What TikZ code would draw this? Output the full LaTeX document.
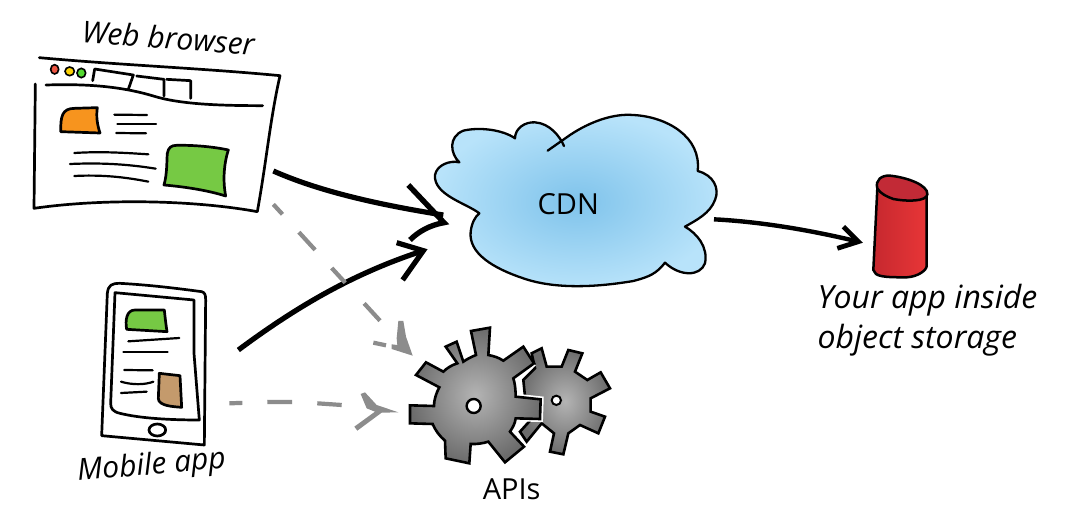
\documentclass[tikz,border=0pt]{standalone}
\usepackage{fontspec}
\setmainfont{Open Sans}
\definecolor{dashgray}{HTML}{8C8C8C}
\definecolor{tan}{HTML}{C49A6C}
\definecolor{leaf}{HTML}{76C944}
\definecolor{amber}{HTML}{F7941E}
\definecolor{skyin}{HTML}{7FC3EB}
\definecolor{skyout}{HTML}{B8E3FA}
\definecolor{gearin}{HTML}{B4B4B4}
\definecolor{gearout}{HTML}{6C6C6C}
\definecolor{redl}{HTML}{C6282F}
\definecolor{redr}{HTML}{E83637}
\definecolor{redt}{HTML}{C22A36}
\tikzset{
  zm/.style 2 args={shift={(#1,#2)},x=0.33333pt,y=-0.33333pt},
  ink/.style={draw=black,line width=2.7pt,line cap=round,line join=round},
  thinink/.style={draw=black,line width=2.2pt,line cap=round,line join=round},
  flow/.style={draw=black,line width=5.2pt,line join=miter},
  headink/.style={draw=black,line width=5.4pt,line join=miter,miter limit=10},
  gflow/.style={draw=dashgray,line width=4.2pt},
  lab/.style={font=\fontsize{30}{41}\selectfont\itshape,inner sep=0pt,text=black,align=left},
  gearshade/.style={shade,inner color=gearin,outer color=gearout,draw=black,line width=2.6pt,line join=miter},
}
\begin{document}
\begin{tikzpicture}[x=1pt,y=-1pt]
\useasboundingbox (0,0) rectangle (1080,524);
\fill[white] (0,0) rectangle (1080,524);
% ---- browser
\begin{scope}[zm={20}{10}]
\draw[ink] (58,143) .. controls (300,165) and (550,175) .. (780,197) .. controls (750,330) and (740,450) .. (712,605) .. controls (520,570) and (250,565) .. (42,595) -- (46,222);
\draw[ink] (78,225) .. controls (180,222) and (290,225) .. (400,258) .. controls (480,283) and (600,287) .. (728,287);
\fill[draw=black,line width=1.6pt,fill=red!60!brown!75!pink] (104,178) ellipse [x radius=12,y radius=14];
\fill[draw=black,line width=1.6pt,fill=yellow!70!orange] (149,184) ellipse [x radius=14,y radius=13];
\fill[draw=black,line width=1.6pt,fill=leaf!70!green] (184,189) ellipse [x radius=13,y radius=14];
\draw[ink] (218,212) -- (224,177) -- (340,195) -- (325,238);
\draw[ink] (350,198) -- (432,208) -- (432,258);
\draw[ink] (440,208) -- (512,212) -- (512,265);
\draw[ink,fill=amber] (122,365) .. controls (122,320) and (125,295) .. (165,295) -- (232,293) .. controls (228,320) and (232,345) .. (240,369) -- cycle;
\draw[thinink] (283,314) -- (381,315);
\draw[thinink] (292,341) -- (408,341);
\draw[thinink] (289,369) -- (378,370);
\draw[thinink] (163,429) .. controls (240,424) and (310,428) .. (385,433);
\draw[thinink] (150,462) .. controls (240,458) and (320,462) .. (407,476);
\draw[thinink] (163,498) .. controls (240,494) and (310,500) .. (385,515);
\draw[ink,fill=leaf] (432,525) .. controls (442,490) and (440,450) .. (442,430) .. controls (445,412) and (455,406) .. (470,406) .. controls (520,405) and (580,410) .. (625,420) .. controls (612,460) and (608,510) .. (617,558) .. controls (560,540) and (490,530) .. (432,525) -- cycle;
\node[lab,rotate=-4] (webLabel) at (445,83) {Web browser};
\end{scope}
% ---- mobile
\begin{scope}[zm={70}{270}]
\draw[ink] (95,497) -- (112,70) .. controls (115,45) and (125,40) .. (150,40) .. controls (240,45) and (320,55) .. (395,65) .. controls (405,68) and (407,75) .. (407,90) -- (403,525) -- cycle;
\draw[ink] (135,68) -- (372,90) -- (372,250) -- (388,450) .. controls (300,450) and (210,445) .. (150,430) .. controls (128,425) and (122,415) .. (122,400) -- cycle;
\draw[ink,fill=leaf] (170,178) .. controls (165,150) and (170,120) .. (195,120) -- (283,120) .. controls (285,140) and (288,165) .. (291,185) -- cycle;
\draw[thinink] (175,214) -- (328,204);
\draw[thinink] (160,246) -- (293,246);
\draw[thinink] (163,300) -- (248,301);
\draw[thinink] (153,335) .. controls (185,345) and (225,345) .. (250,335);
\draw[thinink] (153,369) -- (230,365);
\draw[ink,fill=tan] (268,310) -- (330,317) -- (335,412) .. controls (310,410) and (265,408) .. (265,385) -- cycle;
\draw[ink] (262,480) ellipse [x radius=25,y radius=18];
\node[lab,rotate=5] (mobileLabel) at (245,590) {Mobile app};
\end{scope}
% ---- cloud
\begin{scope}[zm={400}{100}]
\draw[shade,inner color=skyin,outer color=skyout,draw=black,line width=2.3pt,line cap=round,line join=round]
 (443,152) -- (510,105) .. controls (570,65) and (640,40) .. (700,45) .. controls (800,50) and (905,110) .. (893,213)
 .. controls (940,225) and (960,265) .. (945,300) .. controls (930,340) and (890,360) .. (855,380)
 .. controls (890,400) and (925,440) .. (915,490) .. controls (900,530) and (840,530) .. (795,488)
 .. controls (770,520) and (750,530) .. (700,543) .. controls (600,560) and (470,570) .. (370,535)
 .. controls (280,505) and (205,460) .. (212,395) .. controls (215,370) and (225,350) .. (238,340)
 .. controls (200,310) and (100,285) .. (105,225) .. controls (110,195) and (150,180) .. (178,187)
 .. controls (150,160) and (145,110) .. (190,92) .. controls (240,80) and (310,90) .. (345,115)
 .. controls (345,85) and (375,65) .. (405,67) .. controls (450,70) and (480,110) .. (492,138);
\node[lab,font=\fontsize{29}{34}\selectfont] (cdnLabel) at (505,312) {CDN};
\end{scope}
% ---- storage
\begin{scope}[zm={710}{160}]
\draw[left color=redl,right color=redr,draw=black,line width=2.5pt,line join=round] (502,85) -- (490,330) .. controls (495,350) and (520,352) .. (590,352) .. controls (625,350) and (650,330) .. (650,318) -- (650,100) -- cycle;
\draw[fill=redt,draw=black,line width=2.5pt] (502,85) .. controls (495,60) and (515,45) .. (540,47) .. controls (590,52) and (655,75) .. (652,103) .. controls (650,125) and (590,125) .. (550,117) .. controls (530,110) and (510,100) .. (502,85) -- cycle;
\node[lab,anchor=north west,font=\fontsize{32}{40}\selectfont\itshape] (storeLabel) at (322,372) {Your app inside\\object storage};
\coordinate (storeIn) at (445,245);
\coordinate (cdnOut) at (12,178);
\draw[flow,line width=4.4pt] (cdnOut) .. controls (150,185) and (300,210) .. (storeIn);
\draw[headink,line width=4.8pt] (400,200) -- (storeIn) -- (382,265);
\end{scope}
% ---- gears
\begin{scope}[zm={350}{300}]
\draw[gearshade] (545,160) -- (575,145) -- (590,200) -- (635,200) -- (655,150) -- (697,160) -- (675,215) -- (712,240) -- (752,217) -- (780,265) -- (722,295) -- (722,335) -- (765,350) -- (745,400) -- (690,375) -- (655,400) -- (640,463) -- (600,455) -- (612,400) -- (575,370) -- (530,425) -- (510,395) -- (560,340) -- (525,290) -- (520,240) -- (555,205) -- cycle;
\draw[fill=white,draw=black,line width=2pt] (619,301) circle (14);
\path[draw=white,line width=6pt,line join=miter] (497,355) -- (570,357) -- (572,298) -- (497,290) -- (490,235) -- (552,190);
\path[draw=white,line width=7pt,line join=miter] (415,425) -- (465,487) -- (522,440) -- (480,395) -- (497,355);
\draw[gearshade] (252,318) -- (180,316) -- (180,370) -- (248,372) .. controls (255,390) and (270,410) .. (285,422) -- (287,475) -- (358,490) -- (362,432) .. controls (380,433) and (400,430) .. (415,425) -- (465,487) -- (522,440) -- (480,395) .. controls (490,380) and (495,370) .. (497,355) -- (570,357) -- (572,298) -- (497,290) .. controls (497,270) and (495,250) .. (490,235) -- (552,190) -- (520,140) -- (460,182) .. controls (445,172) and (430,168) .. (415,165) -- (420,83) -- (363,93) -- (378,165) .. controls (365,170) and (350,178) .. (340,185) -- (320,125) -- (287,140) -- (322,190) .. controls (305,195) and (290,205) .. (280,215) -- (228,187) -- (198,225) -- (268,262) .. controls (258,280) and (252,300) .. (252,318) -- cycle;
\draw[fill=white,draw=black,line width=2.4pt] (371,318) circle (21);
\node[lab,font=\fontsize{29}{34}\selectfont] (apiLabel) at (485,568) {APIs};
\end{scope}
% ---- connectors
\begin{scope}[zm={220}{160}]
\coordinate (webOut) at (160,33);
\coordinate (cdnInA) at (670,165);
\coordinate (mobOut) at (55,570);
\coordinate (cdnInB) at (610,272);
\coordinate (webDash) at (160,133);
\coordinate (apiDash) at (480,482);
\coordinate (mobDash) at (28,730);
\coordinate (apiInB) at (535,757);
\draw[flow] (webOut) .. controls (300,95) and (480,135) .. (cdnInA);
\draw[headink] (565,75) -- (672,188) .. controls (630,195) and (595,215) .. (570,240);
\draw[flow] (mobOut) .. controls (230,440) and (400,340) .. (cdnInB);
\draw[flow] (530,248) -- (cdnInB) -- (548,360);
\draw[gflow,dash pattern=on 13.5pt off 24.3pt on 24pt off 24.6pt on 20pt off 28pt on 24pt off 100pt] (webDash) -- (apiDash);
\draw[gflow] (460,548) -- (498,556);
\fill[dashgray] (535,483) -- (550,483) -- (558,530) -- (578,587) -- (515,567) -- (515,553) -- (532,555) -- (530,535) -- cycle;
\draw[gflow,dash pattern=on 13pt off 25pt on 24.7pt off 25.3pt on 24.5pt off 100pt] (mobDash) -- (142,726) -- (216,726) -- (292,730) -- (365,735);
\fill[dashgray] (422,702) -- (435,697) -- (470,735) -- (apiInB) -- (485,758) -- (412,812) -- (403,800) -- (465,755) -- (440,745) -- cycle;
\end{scope}
\end{tikzpicture}
\end{document}
